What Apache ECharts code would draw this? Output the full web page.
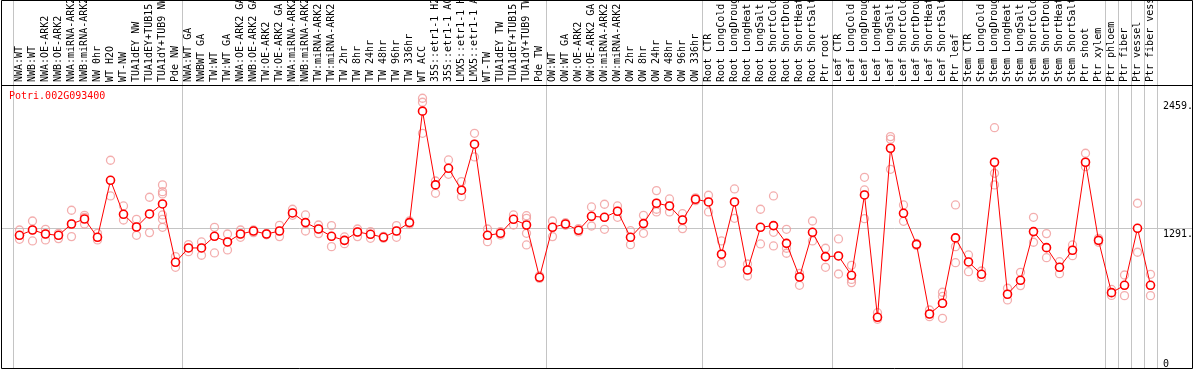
<!DOCTYPE html>
<html>
<head>
<meta charset="utf-8">
<script src="https://cdn.jsdelivr.net/npm/echarts@6/dist/echarts.min.js"></script>
<style>
html,body{margin:0;padding:0;background:#fff;}
#c{width:1194px;height:370px;}
</style>
</head>
<body>
<div id="c"></div>
<script>
const geneName = 'Potri.002G093400';

const categories = [
 'NWA:WT','NWB:WT','NWA:OE-ARK2','NWB:OE-ARK2','NWA:miRNA-ARK2','NWB:miRNA-ARK2','NW 0hr','WT H2O','WT-NW','TUA1dEY NW','TUA1dEY+TUB15 NW','TUA1dY+TUB9 NW','Pde NW',
 'NWA:WT GA','NWBWT GA','TW:WT','TW:WT GA','NWA:OE-ARK2 GA','NWB:OE-ARK2 GA','TW:OE-ARK2','TW:OE-ARK2 GA','NWA:miRNA-ARK2','NWB:miRNA-ARK2','TW:miRNA-ARK2','TW:miRNA-ARK2',
 'TW 2hr','TW 8hr','TW 24hr','TW 48hr','TW 96hr','TW 336hr','WT ACC','35S::etr1-1 H2O','35S::etr1-1 ACC','LMX5::etr1-1 H2O','LMX5::etr1-1 ACC','WT-TW','TUA1dEY TW','TUA1dEY+TUB15 TW','TUA1dY+TUB9 TW','Pde TW',
 'OW:WT','OW:WT GA','OW:OE-ARK2','OW:OE-ARK2 GA','OW:miRNA-ARK2','OW:miRNA-ARK2','OW 2hr','OW 8hr','OW 24hr','OW 48hr','OW 96hr','OW 336hr',
 'Root CTR','Root LongCold','Root LongDrought','Root LongHeat','Root LongSalt','Root ShortCold','Root ShortDrought','Root ShortHeat','Root ShortSalt','Ptr root',
 'Leaf CTR','Leaf LongCold','Leaf LongDrought','Leaf LongHeat','Leaf LongSalt','Leaf ShortCold','Leaf ShortDrought','Leaf ShortHeat','Leaf ShortSalt','Ptr leaf',
 'Stem CTR','Stem LongCold','Stem LongDrought','Stem LongHeat','Stem LongSalt','Stem ShortCold','Stem ShortDrought','Stem ShortHeat','Stem ShortSalt','Ptr shoot','Ptr xylem',
 'Ptr phloem','Ptr fiber','Ptr vessel','Ptr fiber vessel'
];

const meanValues = [
 1220,1273,1233,1220,1333,1383,1200,1769,1430,1303,1433,1533,951,
 1094,1094,1210,1154,1233,1263,1233,1263,1443,1347,1283,1210,
 1170,1253,1230,1200,1263,1347,2459,1723,1889,1670,2129,1220,1240,1380,1323,801,
 1300,1333,1270,1410,1400,1460,1200,1337,1540,1513,1373,1580,
 1553,1031,1553,874,1300,1317,1140,804,1250,1007,
 1014,821,1623,402,2089,1440,1130,435,542,1194,
 954,831,1949,632,771,1257,1097,901,1071,1949,1170,
 648,721,1290,721
];

const replicateValues = [
 [1273,1220,1180],[1363,1273,1164],[1280,1233,1174],[1240,1220,1187],[1470,1333,1207],[1420,1400,1333],[1240,1200,1174],[1969,1769,1613],[1513,1430,1373],[1380,1303,1220],[1600,1433,1247],[1723,1656,1633,1423,1380,1300],[1007,951,901],
 [1127,1094,1057],[1154,1094,1021],[1300,1210,1044],[1233,1154,1074],[1273,1233,1200],[1273,1263,1247],[1240,1233,1225],[1320,1263,1207],[1480,1443,1420],[1423,1347,1263],[1323,1283,1237],[1317,1210,1107],
 [1204,1170,1137],[1283,1253,1207],[1257,1230,1190],[1210,1200,1190],[1317,1263,1200],[1363,1347,1330],[2588,2548,2238],[1762,1723,1640],[1972,1889,1829],[1756,1670,1606],[2238,2129,2002],[1283,1220,1157],[1257,1240,1223],[1423,1380,1323],[1416,1390,1240,1124],[815,801,790],
 [1363,1300,1207],[1346,1333,1320],[1287,1270,1254],[1503,1410,1313],[1530,1400,1280],[1513,1460,1400],[1266,1200,1127],[1420,1337,1240],[1666,1540,1480,1453],[1583,1513,1453],[1436,1373,1287],[1594,1580,1566],
 [1620,1553,1453],[1164,1031,941],[1683,1553,1390],[934,874,814],[1480,1300,1134],[1613,1317,1250,1114],[1280,1140,1091,1041],[841,804,721],[1363,1250,1164],[1091,1007,901],
 [1184,1014,834],[921,821,780,748],[1799,1673,1623,1386],[448,402,382],[2205,2179,2089,1879],[1523,1440,1360],[1140,1130,1120],[475,435,408],[652,610,542,392],[1523,1194,1107,947],
 [1024,954,857],[864,831,800],[2294,1949,1839,1723],[692,632,575],[851,771,718],[1400,1257,1151],[1237,1097,997],[957,901,837],[1124,1071,1017],[2039,1949,1905],[1190,1170,1150],
 [680,648,620],[824,721,618],[1540,1290,1051],[831,721,618]
];

// indices of the last category of each group (a separator follows each)
const groupEnds = [12,40,52,62,72,83,84,85,86,87];

const yTickValues = [0,1291,2459];
const yTickLabels = ['0','1291.','2459.'];

const MONO = '"DejaVu Sans Mono", "Liberation Mono", monospace';
const RED = '#ff0000';
const PINK = '#f09a9a';
const GRAY = '#c4c4c4';

const repData = [];
replicateValues.forEach((arr, i) => arr.forEach(v => repData.push([i, v])));

const chart = echarts.init(document.getElementById('c'), null, {renderer: 'canvas'});

const option = {
  animation: false,
  backgroundColor: '#fff',
  title: {
    text: geneName, left: 9, top: 91, padding: 0,
    textStyle: {color: RED, fontSize: 10, fontWeight: 'normal', fontFamily: MONO}
  },
  grid: {left: 13, right: 37, top: 85, bottom: 1, containLabel: false, outerBoundsMode: 'none'},
  xAxis: {
    type: 'category', data: categories, position: 'top', boundaryGap: true,
    axisLine: {show: false}, axisTick: {show: false}, splitLine: {show: false},
    axisLabel: {interval: 0, rotate: 90, margin: 3, align: 'left', verticalAlign: 'middle',
      color: '#000', fontSize: 10, fontFamily: MONO}
  },
  yAxis: {
    type: 'value', min: -114, max: 2720, show: false, splitLine: {show: false}
  },
  series: [
    {
      type: 'scatter', data: repData, symbol: 'circle', symbolSize: 8, z: 3,
      itemStyle: {color: 'rgba(255,255,255,0)', borderColor: PINK, borderWidth: 1.3},
      emphasis: {disabled: true}
    },
    {
      type: 'line', data: meanValues, symbol: 'circle', symbolSize: 8, showSymbol: true, showAllSymbol: true, z: 4,
      lineStyle: {color: RED, width: 1},
      itemStyle: {color: '#ffffff', borderColor: RED, borderWidth: 1.6},
      emphasis: {disabled: true}
    }
  ]
};
chart.setOption(option);

// decorations computed through the chart's own scales
const xp = i => chart.convertToPixel({xAxisIndex: 0}, i);
const yp = v => chart.convertToPixel({yAxisIndex: 0}, v);
const step = xp(1) - xp(0);
const W = 1192.5, H = 368.5;
const els = [];
const sepX = [xp(0) - step / 2].concat(groupEnds.map(i => xp(i) + step / 2));
sepX.forEach(x => {
  const rx = Math.round(x) + 0.5;
  els.push({type: 'line', z: 1, shape: {x1: rx, y1: 0, x2: rx, y2: H}, style: {stroke: GRAY, lineWidth: 1}});
});
const gy = Math.round(yp(1291)) + 0.5;
els.push({type: 'line', z: 1, shape: {x1: 1.5, y1: gy, x2: W, y2: gy}, style: {stroke: GRAY, lineWidth: 1}});
const maxMean = Math.max.apply(null, meanValues);
yTickValues.forEach((v, k) => {
  els.push({type: 'text', z: 5, x: 1163, y: Math.round(yp(v)) + (v === maxMean ? 0 : 1),
    style: {text: yTickLabels[k], fill: '#000', font: '10px ' + MONO, textAlign: 'left', textVerticalAlign: v === maxMean ? 'bottom' : 'top'}});
});
els.push({type: 'rect', z: 6, shape: {x: 1.5, y: 0.5, width: W - 1.5, height: H - 0.5}, style: {fill: 'none', stroke: '#000', lineWidth: 1}});
els.push({type: 'line', z: 6, shape: {x1: 1.5, y1: 85.5, x2: W, y2: 85.5}, style: {stroke: '#000', lineWidth: 1}});
chart.setOption({graphic: {elements: els}});
</script>
</body>
</html>
